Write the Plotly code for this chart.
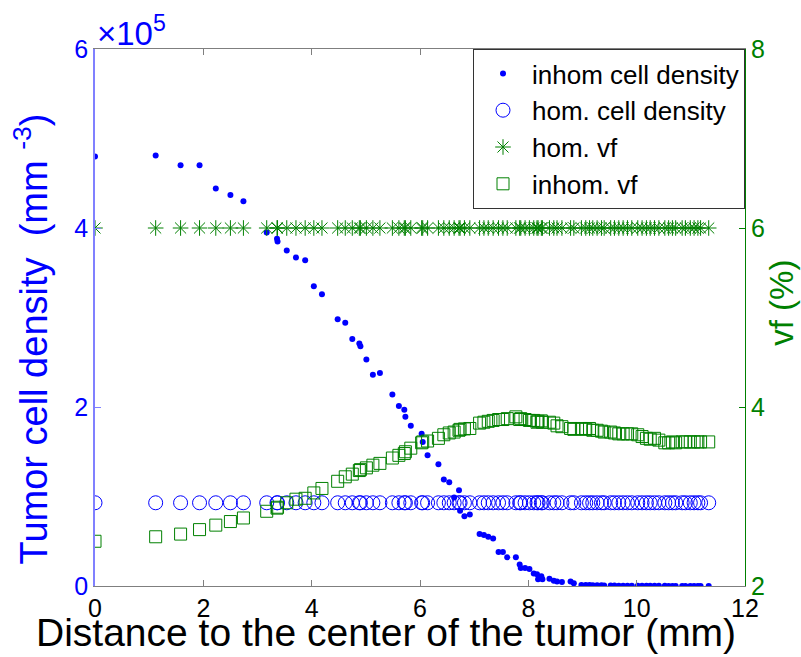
import plotly.graph_objects as go

# Shared radial positions (mm)
distance = [0.00, 1.12, 1.58, 1.93, 2.23, 2.50, 2.74, 3.17, 3.36, 3.37, 3.54, 3.71, 3.88, 4.04, 4.19,
            4.48, 4.62, 4.75, 4.88, 4.90, 5.01, 5.13, 5.26, 5.49, 5.61, 5.71, 5.73, 5.83, 6.03, 6.05,
            6.14, 6.34, 6.44, 6.54, 6.63, 6.72, 6.74, 6.82, 6.92, 7.10, 7.18, 7.26, 7.35, 7.45, 7.53,
            7.61, 7.77, 7.84, 7.86, 7.94, 8.02, 8.10, 8.16, 8.18, 8.24, 8.26, 8.39, 8.47, 8.53, 8.62,
            8.78, 8.84, 8.98, 9.06, 9.13, 9.19, 9.27, 9.35, 9.40, 9.52, 9.59, 9.67, 9.75, 9.83, 9.91,
            10.02, 10.10, 10.18, 10.25, 10.33, 10.41, 10.52, 10.59, 10.66, 10.72, 10.84, 10.90, 10.99,
            11.06, 11.13, 11.18, 11.33]

# inhomogeneous tumor cell density (mm^-3)
inhom_density = [4.80e5, 4.81e5, 4.70e5, 4.70e5, 4.44e5, 4.37e5, 4.30e5, 3.95e5, 3.88e5, 3.85e5,
                 3.75e5, 3.67e5, 3.64e5, 3.35e5, 3.26e5, 2.98e5, 2.94e5, 2.76e5, 2.71e5, 2.68e5,
                 2.53e5, 2.36e5, 2.38e5, 2.14e5, 2.01e5, 1.97e5, 1.89e5, 1.79e5, 1.70e5, 1.61e5,
                 1.46e5, 1.36e5, 1.19e5, 1.16e5, 0.99e5, 1.07e5, 0.84e5, 0.78e5, 0.80e5, 0.58e5,
                 0.57e5, 0.55e5, 0.53e5, 0.38e5, 0.38e5, 0.32e5, 0.32e5, 0.24e5, 0.20e5, 0.20e5,
                 0.19e5, 0.14e5, 0.13e5, 0.075e5, 0.11e5, 0.075e5, 0.08e5, 0.06e5, 0.05e5, 0.045e5,
                 0.05e5, 0.03e5, 0.012e5, 0.010e5, 0.010e5, 0.008e5, 0.008e5, 0.007e5, 0.006e5,
                 0.005e5, 0.005e5, 0.004e5, 0.004e5, 0.004e5, 0.003e5, 0.003e5, 0.003e5, 0.002e5,
                 0.002e5, 0.002e5, 0.002e5, 0.002e5, 0.001e5, 0.001e5, 0.001e5, 0.001e5, 0.001e5,
                 0.001e5, 0.001e5, 0.001e5, 0.001e5, 0.001e5]

# homogeneous tumor cell density (mm^-3)
hom_density = [0.93e5] * len(distance)

# homogeneous vascular fraction (%)
hom_vf = [6.0] * len(distance)

# inhomogeneous vascular fraction (%)
inhom_vf = [2.50, 2.55, 2.58, 2.63, 2.68, 2.72, 2.76, 2.835, 2.87, 2.88, 2.93, 2.97, 2.98, 3.04, 3.09,
            3.17, 3.22, 3.25, 3.29, 3.30, 3.32, 3.35, 3.37, 3.43, 3.46, 3.48, 3.50, 3.54, 3.60, 3.61,
            3.62, 3.65, 3.69, 3.71, 3.72, 3.74, 3.75, 3.755, 3.76, 3.82, 3.83, 3.84, 3.85, 3.86, 3.86,
            3.87, 3.89, 3.86, 3.87, 3.86, 3.85, 3.85, 3.83, 3.84, 3.845, 3.83, 3.83, 3.82, 3.79, 3.78,
            3.76, 3.75, 3.76, 3.75, 3.76, 3.74, 3.74, 3.73, 3.72, 3.72, 3.71, 3.70, 3.70, 3.70, 3.70,
            3.69, 3.67, 3.65, 3.64, 3.65, 3.63, 3.60, 3.60, 3.61, 3.60, 3.61, 3.61, 3.61, 3.61, 3.61,
            3.61, 3.61]

x_ticks = [0, 2, 4, 6, 8, 10, 12]
left_tickvals = [0, 2e5, 4e5, 6e5]
left_ticktext = ["0", "2", "4", "6"]
right_ticks = [2, 4, 6, 8]

BLUE = "#0000FF"
GREEN = "#008000"
FONT = "Liberation Sans, Arial, sans-serif"

fig = go.Figure()
fig.add_trace(go.Scatter(x=distance, y=inhom_density, mode="markers", name="inhom cell density",
                         marker=dict(symbol="circle", size=6, color=BLUE, line=dict(width=0))))
fig.add_trace(go.Scatter(x=distance, y=hom_density, mode="markers", name="hom. cell density",
                         marker=dict(symbol="circle-open", size=14, color=BLUE, line=dict(width=1, color=BLUE))))
fig.add_trace(go.Scatter(x=distance, y=hom_vf, mode="markers", name="hom. vf", yaxis="y2",
                         marker=dict(symbol="asterisk-open", size=13, color=GREEN, line=dict(width=1, color=GREEN))))
fig.add_trace(go.Scatter(x=distance, y=inhom_vf, mode="markers", name="inhom. vf", yaxis="y2",
                         marker=dict(symbol="square-open", size=12, color=GREEN, line=dict(width=1, color=GREEN))))

fig.update_layout(
    width=801, height=657,
    margin=dict(l=95, r=56, t=49, b=71),
    paper_bgcolor="white", plot_bgcolor="white",
    font=dict(family=FONT, size=25, color="black"),
    xaxis=dict(range=[0, 12], tickvals=x_ticks, showgrid=False, zeroline=False,
               showline=True, linecolor="#7f7f7f", linewidth=1, mirror="ticks",
               ticks="inside", ticklen=6, tickcolor="#7f7f7f",
               tickfont=dict(size=25, color="black")),
    yaxis=dict(range=[0, 6e5], tickvals=left_tickvals, ticktext=left_ticktext, showgrid=False, zeroline=False,
               showline=True, linecolor="#8080ff", linewidth=1.5,
               ticks="inside", ticklen=6, tickcolor="#8080ff",
               tickfont=dict(size=25, color=BLUE)),
    yaxis2=dict(range=[2, 8], tickvals=right_ticks, overlaying="y", side="right", showgrid=False,
                zeroline=False, showline=True, linecolor=GREEN, linewidth=1,
                ticks="inside", ticklen=6, tickcolor=GREEN,
                tickfont=dict(size=25, color=GREEN)),
    legend=dict(x=1, xanchor="right", y=1, yanchor="top", bgcolor="white",
                bordercolor="#333333", borderwidth=1, font=dict(size=26, color="black"),
                itemsizing="trace", itemwidth=48, tracegroupgap=0),
    showlegend=True,
)

# Axis titles
fig.add_annotation(text="Distance to the center of the tumor (mm)", xref="paper", yref="paper",
                   x=0.4477, y=-0.0875, xanchor="center", yanchor="middle", showarrow=False,
                   font=dict(size=39, color="black", family=FONT))
fig.add_annotation(text="Tumor cell density  (mm <sup>-3</sup>)", xref="paper", yref="paper",
                   x=-0.097, y=0.461, xanchor="center", yanchor="middle", showarrow=False, textangle=-90,
                   font=dict(size=38, color=BLUE, family=FONT))
fig.add_annotation(text="vf (%)", xref="paper", yref="paper",
                   x=1.055, y=0.527, xanchor="center", yanchor="middle", showarrow=False, textangle=-90,
                   font=dict(size=33, color=GREEN, family=FONT))
# Exponent label
fig.add_annotation(text="×10<sup>5</sup>", xref="paper", yref="paper", x=0.0, y=1,
                   xanchor="left", yanchor="bottom", showarrow=False, xshift=0, yshift=-5,
                   font=dict(size=33, color=BLUE, family=FONT))

fig.write_html("out.html")
